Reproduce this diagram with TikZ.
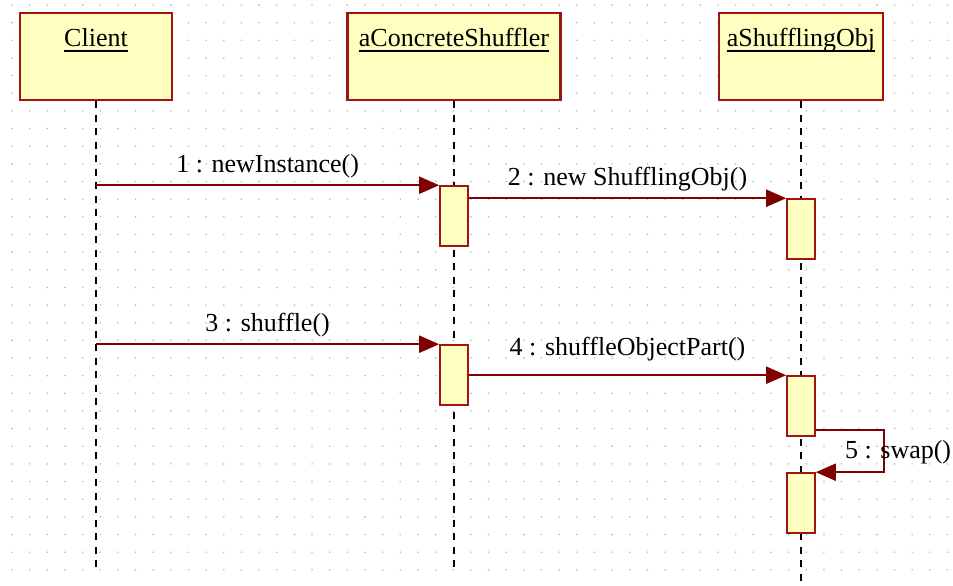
\documentclass[tikz,border=0pt]{standalone}
\usepackage{fontspec}
\setmainfont{Liberation Serif}
\usetikzlibrary{arrows.meta,calc}

\definecolor{roseline}{RGB}{128,0,0}
\definecolor{roseedge}{RGB}{160,20,20}
\definecolor{rosefill}{RGB}{255,255,192}
\definecolor{rosegrid}{RGB}{185,185,185}

% underlined object name, rule kept at a fixed depth
\newcommand{\objname}[1]{\setbox0=\hbox{#1}\rlap{\rule[-5.8pt]{\wd0}{2pt}}\box0}

\begin{document}
\begin{tikzpicture}[
    x=1pt,
    y=-1pt,
    >={Triangle[length=20pt,width=17pt]},
    font=\fontsize{26}{30}\selectfont,
    objbox/.style={draw=roseedge, line width=2.2pt, fill=rosefill,
        inner xsep=0pt, inner ysep=0pt, text height=33pt, text depth=54pt},
    actbar/.style={draw=roseedge, line width=1.6pt, fill=rosefill,
        minimum width=28pt, minimum height=60pt, inner sep=0pt},
    lifeline/.style={line width=2pt, dash pattern=on 7pt off 6.5pt},
    msg/.style={draw=roseline, line width=2pt, ->},
    msglabel/.style={midway, anchor=base, yshift=13pt, inner sep=0pt}
]

% -----------------------
% Parameters
% -----------------------
\def\gap{17.65}
\def\xcl{96}
\def\xcs{454}
\def\xso{801}

\useasboundingbox (0,0) rectangle (953,586);

% -----------------------
% Dot grid
% -----------------------
\foreach \i in {0,...,53}
  \foreach \j in {0,...,32}
    \fill[rosegrid] (12+\gap*\i, 5+\gap*\j) circle (0.9pt);

% -----------------------
% Objects
% -----------------------
\node[objbox, minimum width=152pt] (client)   at (\xcl,56.7) {\objname{Client}};
\node[objbox, minimum width=213pt] (shuffler) at (\xcs,56.7) {\objname{aConcreteShuffler}};
\node[objbox, minimum width=164pt] (shobj)    at (\xso,56.7) {\objname{aShufflingObj}};

\coordinate (clientend)   at (\xcl,570);
\coordinate (shufflerend) at (\xcs,570);
\coordinate (shobjend)    at (\xso,590);

% Lifelines
\draw[lifeline] (client.south)   -- (clientend);
\draw[lifeline] (shuffler.south) -- (shufflerend);
\draw[lifeline] (shobj.south)    -- (shobjend);

% -----------------------
% Activations
% -----------------------
\node[actbar] (act1) at (\xcs,216) {};
\node[actbar] (act2) at (\xcs,375) {};
\node[actbar] (obj1) at (\xso,229) {};
\node[actbar] (obj2) at (\xso,406) {};
\node[actbar] (obj3) at (\xso,503) {};

% -----------------------
% Messages
% -----------------------
\draw[msg] (client.south |- act1.north) -- node[msglabel] (m1) {1 : newInstance()} (act1.north west);
\draw[msg] (act1.east |- obj1.north) -- node[msglabel] (m2) {2 : new ShufflingObj()} (obj1.north west);
\draw[msg] (client.south |- act2.north) -- node[msglabel] (m3) {3 : shuffle()} (act2.north west);
\draw[msg] (act2.east |- obj2.north) -- node[msglabel, yshift=7pt] (m4) {4 : shuffleObjectPart()} (obj2.north west);

% self call
\coordinate (swapturn) at ($(obj2.south east)+(68,-6.5)$);
\draw[msg] (obj2.east |- swapturn) -- (swapturn) -- (swapturn |- obj3.north) -- (obj3.north east);
\node[anchor=base west, inner sep=0pt] (m5) at ($(swapturn)+(-39,28)$) {5 : swap()};

\end{tikzpicture}
\end{document}
